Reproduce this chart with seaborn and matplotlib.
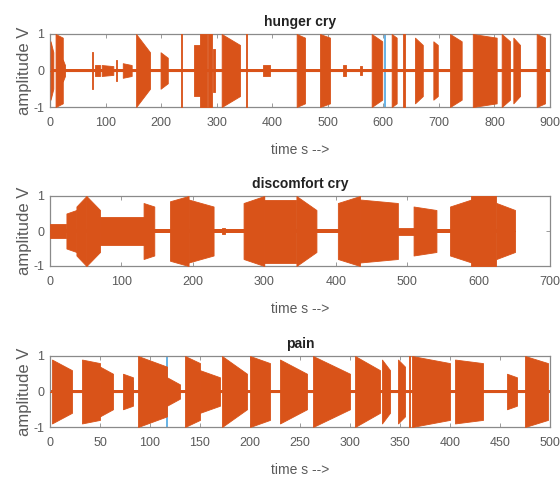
import numpy as np
import pandas as pd
import matplotlib
matplotlib.use("Agg")
import matplotlib.pyplot as plt
import seaborn as sns

# ---- data: bursts (start s, end s, amplitude at start, amplitude at end)
hunger_start = [1, 10, 23, 76, 81, 93, 119, 131, 155, 199, 236, 259, 270, 285, 293, 309, 353, 384,
                444, 486, 528, 558, 579, 615, 636, 657, 690, 720, 761, 813, 834, 876]
hunger_end = [6, 23, 27, 78, 90, 114, 121, 147, 180, 212, 238, 270, 282, 291, 297, 342, 355, 396,
              459, 504, 533, 562, 598, 624, 639, 671, 698, 741, 804, 828, 846, 891]
hunger_a0 = [0.8, 1.0, 0.3, 0.5, 0.15, 0.15, 0.3, 0.2, 1.0, 0.5, 1.0, 0.7, 1.0, 1.0, 0.6, 1.0, 1.0, 0.15,
             1.0, 1.0, 0.15, 0.12, 1.0, 1.0, 1.0, 0.9, 0.8, 1.0, 1.0, 1.0, 0.9, 1.0]
hunger_a1 = [0.5, 0.9, 0.15, 0.5, 0.15, 0.12, 0.3, 0.15, 0.5, 0.35, 1.0, 0.7, 1.0, 1.0, 0.6, 0.7, 1.0, 0.15,
             0.9, 0.9, 0.15, 0.12, 0.8, 0.9, 1.0, 0.7, 0.7, 0.8, 0.9, 0.8, 0.7, 0.9]
hunger_floor = [0, 900, 0.05]
hunger_blue_t = [603]
hunger_blue_a = [1.0]

disc_start = [0, 23, 37, 51, 70, 131, 168, 194, 241, 271, 300, 345, 403, 434, 487, 509, 560, 590, 625]
disc_end = [23, 37, 51, 70, 131, 146, 194, 229, 245, 300, 345, 373, 434, 487, 509, 541, 590, 625, 651]
disc_a0 = [0.2, 0.5, 0.7, 1.0, 0.4, 0.8, 0.85, 0.9, 0.08, 0.8, 0.9, 1.0, 0.8, 0.9, 0.1, 0.7, 0.7, 1.0, 0.8]
disc_a1 = [0.2, 0.6, 1.0, 0.6, 0.4, 0.7, 1.0, 0.7, 0.08, 1.0, 0.9, 0.6, 1.0, 0.8, 0.1, 0.6, 0.9, 1.0, 0.6]
disc_floor = [0, 651, 0.05]
disc_blue_t = []
disc_blue_a = []

pain_start = [2, 32, 50, 73, 88, 117, 135, 150, 172, 200, 230, 263, 305, 332, 348, 359, 362, 405, 457, 475]
pain_end = [22, 50, 63, 83, 117, 130, 150, 170, 197, 220, 257, 300, 330, 340, 355, 360, 400, 433, 467, 498]
pain_a0 = [0.9, 0.9, 0.7, 0.5, 1.0, 0.4, 1.0, 0.6, 1.0, 1.0, 0.9, 1.0, 1.0, 0.9, 0.9, 1.0, 1.0, 0.9, 0.5, 1.0]
pain_a1 = [0.6, 0.8, 0.5, 0.4, 0.7, 0.2, 0.8, 0.4, 0.5, 0.8, 0.5, 0.5, 0.6, 0.6, 0.7, 1.0, 0.8, 0.8, 0.4, 0.8]
pain_floor = [0, 500, 0.03]
pain_blue_t = [83, 117]
pain_blue_a = [0.3, 1.0]

titles = ["hunger cry", "discomfort cry", "pain"]
xmax = [900, 700, 500]
xstep = [100, 100, 50]
yticks = [-1, 0, 1]
xlabel = "time s -->"
ylabel = "amplitude V"

ORANGE = "#D95319"
BLUE = "#4DA6E0"
GRAY = "#8a8a8a"
TXT = "#5a5a5a"

sns.set_theme(style="white")
plt.rcParams["font.family"] = ["Liberation Sans", "DejaVu Sans"]
plt.rcParams["axes.unicode_minus"] = False

fig = plt.figure(figsize=(5.6, 4.82), dpi=100)
W, H = 560, 482
boxes = [(50, 34, 550, 107), (50, 196, 550, 266), (50, 356, 550, 427)]

panels = [
    (hunger_start, hunger_end, hunger_a0, hunger_a1, hunger_floor, hunger_blue_t, hunger_blue_a),
    (disc_start, disc_end, disc_a0, disc_a1, disc_floor, disc_blue_t, disc_blue_a),
    (pain_start, pain_end, pain_a0, pain_a1, pain_floor, pain_blue_t, pain_blue_a),
]

for i, (box, pdata) in enumerate(zip(boxes, panels)):
    x0, y0, x1, y1 = box
    ax = fig.add_axes([x0 / W, 1 - y1 / H, (x1 - x0) / W, (y1 - y0) / H])
    st, en, a0, a1, floor, bt, ba = pdata
    df = pd.DataFrame({"start": st, "end": en, "a0": a0, "a1": a1})
    ax.fill_between([floor[0], floor[1]], [floor[2]] * 2, [-floor[2]] * 2, color=ORANGE, lw=0, zorder=2)
    for t, a in zip(bt, ba):
        ax.vlines(t, -a, a, color=BLUE, lw=1.2, zorder=1.5)
    for _, r in df.iterrows():
        ax.fill_between([r.start, r.end], [r.a0, r.a1], [-r.a0, -r.a1],
                        facecolor=ORANGE, lw=0.6, edgecolor=ORANGE, zorder=3)
    base = pd.DataFrame({"t": [floor[0], floor[1]], "v": [0, 0]})
    sns.lineplot(data=base, x="t", y="v", ax=ax, color=ORANGE, lw=0.8, zorder=4)

    ax.set_xlim(0, xmax[i])
    ax.set_ylim(-1, 1)
    ax.set_xticks(np.arange(0, xmax[i] + 1, xstep[i]))
    ax.set_yticks(yticks)
    ax.tick_params(direction="in", length=3, width=0.6, colors=GRAY, labelcolor=TXT,
                   labelsize=9, top=True, right=True, bottom=True, left=True)
    ax.tick_params(axis="x", pad=7)
    ax.tick_params(axis="y", pad=4)
    for s in ax.spines.values():
        s.set_color(GRAY)
        s.set_linewidth(0.9)
    ax.set_title(titles[i], fontsize=10, fontweight="bold", color="#222222", pad=6)
    ax.set_xlabel(xlabel, fontsize=10, color=TXT, labelpad=10)
    ax.set_ylabel(ylabel, fontsize=12, color=TXT)
    ax.yaxis.set_label_coords(-0.035, 0.5)

fig.savefig("out.png", dpi=100)
